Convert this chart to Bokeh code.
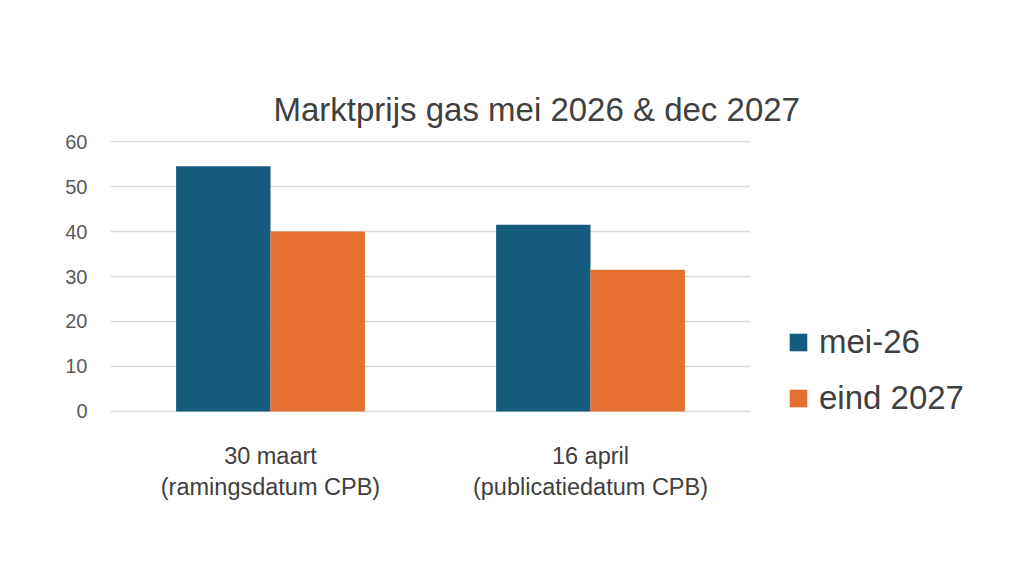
from bokeh.plotting import figure
from bokeh.models import ColumnDataSource, Legend, LegendItem, FixedTicker
from bokeh.transform import dodge
from bokeh.embed import file_html
from bokeh.resources import INLINE

# ---- data ----
categories = ["30 maart\n(ramingsdatum CPB)", "16 april\n(publicatiedatum CPB)"]
mei_26 = [54.5, 41.5]
eind_2027 = [40.0, 31.5]
series_names = ["mei-26", "eind 2027"]
y_ticks = [0, 10, 20, 30, 40, 50, 60]
title_text = "Marktprijs gas mei 2026 & dec 2027"

BLUE = "#155b7d"
ORANGE = "#e46f30"
TEXT = "#404040"
FONT = "Liberation Sans"

source = ColumnDataSource(data=dict(cat=categories, mei=mei_26, eind=eind_2027))

p = figure(
    frame_width=640, frame_height=272,
    x_range=categories, y_range=(-0.25, 60.25),
    output_backend="svg", toolbar_location=None,
    title=title_text,
    min_border_left=110, min_border_right=244,
    min_border_top=140, min_border_bottom=156,
)
p.outline_line_color = None
p.background_fill_color = "white"
p.border_fill_color = "white"

bw = 0.295
r1 = p.vbar(x=dodge("cat", -bw / 2, range=p.x_range), top="mei", width=bw,
            source=source, fill_color=BLUE, line_color=None)
r2 = p.vbar(x=dodge("cat", bw / 2, range=p.x_range), top="eind", width=bw,
            source=source, fill_color=ORANGE, line_color=None)

# title
p.title.text_font = FONT
p.title.text_font_size = "33px"
p.title.text_font_style = "normal"
p.title.text_color = TEXT
p.title.align = "left"
p.title.offset = 163
p.title.standoff = 26

# grid
p.xgrid.visible = False
p.ygrid.grid_line_color = "#d9d9d9"
p.ygrid.grid_line_width = 1.5

# axes
p.yaxis.ticker = FixedTicker(ticks=y_ticks)
p.yaxis.axis_line_color = None
p.yaxis.major_tick_line_color = None
p.yaxis.minor_tick_line_color = None
p.yaxis.major_label_text_font = FONT
p.yaxis.major_label_text_font_size = "20px"
p.yaxis.major_label_text_color = "#595959"
p.yaxis.major_label_standoff = 17

p.xaxis.axis_line_color = None
p.xaxis.major_tick_line_color = None
p.xaxis.minor_tick_line_color = None
p.xaxis.major_label_text_font = FONT
p.xaxis.major_label_text_font_size = "23.5px"
p.xaxis.major_label_text_color = TEXT
p.xaxis.major_label_standoff = 24

legend = Legend(
    items=[LegendItem(label=series_names[0], renderers=[r1]),
           LegendItem(label=series_names[1], renderers=[r2])],
    location=(37, -5),
    glyph_width=22, glyph_height=22,
    label_text_font=FONT, label_text_font_size="33px", label_text_color=TEXT,
    spacing=18, padding=0, margin=0,
    border_line_color=None, background_fill_alpha=0,
    label_standoff=10,
)
p.add_layout(legend, "right")

open("out.html", "w").write(file_html(p, INLINE))
